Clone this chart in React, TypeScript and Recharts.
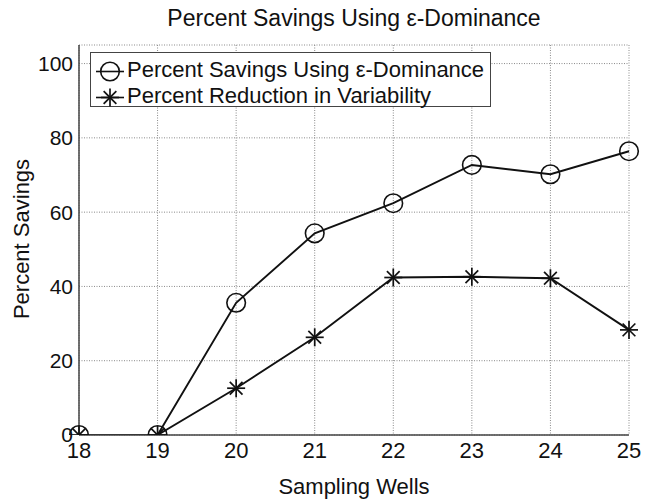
import React from "react";
import { LineChart, Line, XAxis, YAxis, CartesianGrid } from "recharts";

// Number of sampling wells on the x axis
const wells = [18, 19, 20, 21, 22, 23, 24, 25];
// Percent savings using epsilon-dominance
const savings = [0, 0, 35.6, 54.3, 62.4, 72.7, 70.2, 76.4];
// Percent reduction in variability
const reduction = [0, 0, 12.6, 26.3, 42.4, 42.6, 42.2, 28.3];
const yTicks = [0, 20, 40, 60, 80, 100];

const data = wells.map((w, i) => ({ wells: w, savings: savings[i], reduction: reduction[i] }));

const FONT = '"Liberation Sans", Arial, sans-serif';
const INK = "#111";
const FRAME = "#444";

function Circle(props: any) {
  const { cx, cy } = props;
  if (cx == null || cy == null) return null;
  return <circle cx={cx} cy={cy} r={9.3} fill="none" stroke={INK} strokeWidth={1.6} />;
}

function Star(props: any) {
  const { cx, cy } = props;
  if (cx == null || cy == null) return null;
  const s = 9;
  const d = s * 0.707;
  return (
    <g stroke={INK} strokeWidth={1.7}>
      <line x1={cx - s} y1={cy} x2={cx + s} y2={cy} />
      <line x1={cx} y1={cy - s} x2={cx} y2={cy + s} />
      <line x1={cx - d} y1={cy - d} x2={cx + d} y2={cy + d} />
      <line x1={cx - d} y1={cy + d} x2={cx + d} y2={cy - d} />
    </g>
  );
}

function LegendRow({ marker, label }: { marker: "circle" | "star"; label: string }) {
  return (
    <div style={{ display: "flex", height: 26, lineHeight: "26px", whiteSpace: "nowrap" }}>
      <svg width={36} height={26} style={{ flex: "none" }}>
        <line x1={5} y1={14.5} x2={33} y2={14.5} stroke={INK} strokeWidth={1.6} />
        {marker === "circle" ? <Circle cx={19} cy={14.5} /> : <Star cx={19} cy={14.5} />}
      </svg>
      <span>{label}</span>
    </div>
  );
}

export default function App() {
  const tick = { fill: "#111", fontSize: 21, fontFamily: FONT };
  return (
    <div style={{ position: "absolute", left: 0, top: 0, width: 654, height: 501, background: "#fff", fontFamily: FONT, color: "#111" }}>
      <LineChart width={654} height={501} data={data} margin={{ top: 45, right: 25, bottom: 36, left: 39 }}>
        <CartesianGrid stroke="#8a8a8a" strokeDasharray="1 1.5" strokeWidth={1} />
        <XAxis
          dataKey="wells"
          type="number"
          domain={[18, 25]}
          ticks={wells}
          height={30}
          tick={{ ...tick, fontSize: 22 }}
          tickLine={false}
          tickSize={6}
          tickMargin={1}
          axisLine={{ stroke: FRAME, strokeWidth: 1.5 }}
        />
        <XAxis xAxisId="top" orientation="top" dataKey="wells" type="number" domain={[18, 25]} height={0} tick={false} tickLine={false} axisLine={{ stroke: FRAME, strokeWidth: 1.5 }} />
        <YAxis
          type="number"
          domain={[0, 105]}
          ticks={yTicks}
          width={40}
          tick={tick}
          tickLine={false}
          tickSize={4}
          tickMargin={2}
          allowDataOverflow
          axisLine={{ stroke: FRAME, strokeWidth: 1.5 }}
        />
        <YAxis yAxisId="right" orientation="right" domain={[0, 105]} width={0} tick={false} tickLine={false} axisLine={{ stroke: FRAME, strokeWidth: 1.5 }} />
        <Line dataKey="reduction" stroke={INK} strokeWidth={1.9} dot={<Star />} isAnimationActive={false} />
        <Line dataKey="savings" stroke={INK} strokeWidth={1.9} dot={<Circle />} isAnimationActive={false} />
      </LineChart>

      <div style={{ position: "absolute", left: 79, width: 550, top: 5, textAlign: "center", fontSize: 23, whiteSpace: "nowrap" }}>
        Percent Savings Using ε-Dominance
      </div>
      <div style={{ position: "absolute", left: 79, width: 550, top: 474, textAlign: "center", fontSize: 22 }}>
        Sampling Wells
      </div>
      <div style={{ position: "absolute", left: 22, top: 239, transform: "translate(-50%, -50%) rotate(-90deg)", whiteSpace: "nowrap", fontSize: 22 }}>
        Percent Savings
      </div>

      <div style={{ position: "absolute", left: 90, top: 52, width: 401, height: 55, boxSizing: "border-box", border: `1.5px solid ${FRAME}`, background: "#fff", padding: "4px 0 0 0", fontSize: 22 }}>
        <LegendRow marker="circle" label="Percent Savings Using ε-Dominance" />
        <LegendRow marker="star" label="Percent Reduction in Variability" />
      </div>
    </div>
  );
}
